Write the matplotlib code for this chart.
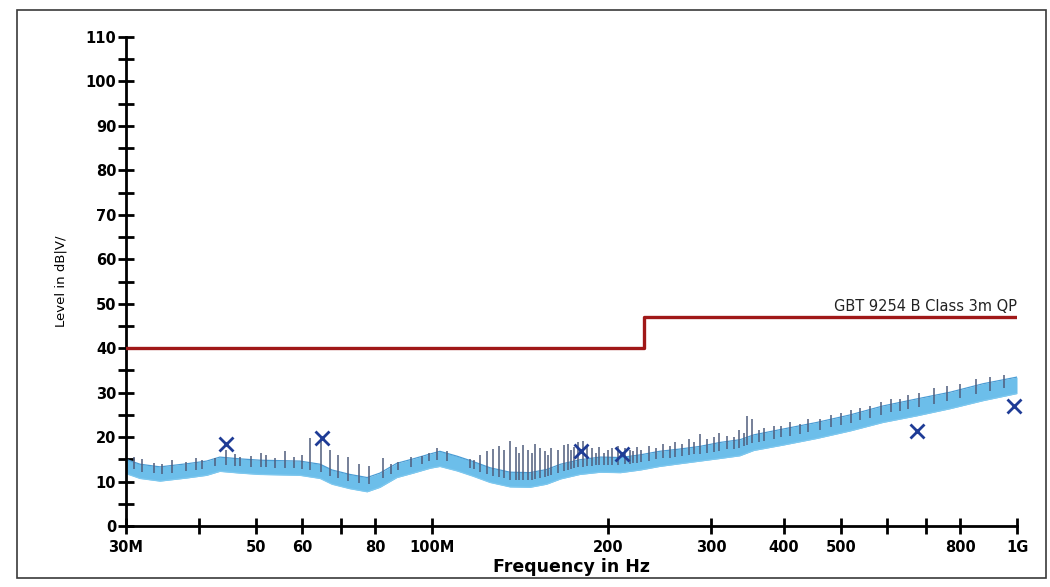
import numpy as np
import matplotlib
matplotlib.use("Agg")
import matplotlib.pyplot as plt
from matplotlib.patches import Rectangle
from matplotlib.ticker import FixedLocator, FixedFormatter, NullFormatter

plt.rcParams['font.family'] = ['DejaVu Sans']

# ---------------- data (MHz / dBuV) ----------------
limit_freq = [30, 230, 1000]
limit_level = [40, 47, 47]
limit_name = "GBT 9254 B Class 3m QP"

band_freq = [30, 31.7, 34.3, 38.1, 41.2, 43.4, 47, 50.8, 55, 59.5, 64.4, 67.5,
             72.4, 77.5, 81.5, 87.1, 92.9, 99.3, 103.2, 110.4, 117.6, 125.7,
             136, 147, 157, 166, 179, 194, 210, 227, 245, 265, 287, 311, 336,
             355, 398, 455, 519, 590, 675, 769, 875, 1000]
band_low = [11.8, 10.7, 10.1, 10.8, 11.4, 12.3, 11.9, 11.6, 11.5, 11.4, 10.7,
            9.4, 8.4, 7.7, 8.7, 10.9, 11.9, 13.0, 13.4, 12.4, 11.2, 9.8, 8.8,
            8.7, 9.4, 10.6, 11.6, 12.1, 12.0, 12.6, 13.4, 14.0, 14.6, 15.2,
            15.8, 17.0, 18.2, 19.7, 21.4, 23.3, 24.8, 26.4, 28.2, 29.8]
band_high = [15.0, 13.9, 13.3, 14.0, 14.6, 15.5, 15.1, 14.8, 14.7, 14.6, 13.9,
             12.6, 11.6, 10.9, 11.9, 14.1, 15.1, 16.2, 16.8, 15.7, 14.5, 13.1,
             12.1, 12.0, 12.7, 13.9, 14.9, 15.5, 15.4, 16.0, 16.8, 17.3, 17.9,
             18.8, 19.4, 20.5, 21.8, 23.3, 25.0, 27.0, 28.6, 30.1, 32.0, 33.5]

spike_freq = [31, 32, 33.5, 34.5, 36, 38, 39.5, 40.5, 42.5, 44.5, 46, 47, 49,
              51, 52, 54, 56, 58, 60, 62, 64.5, 67, 69, 72, 75, 78, 82.5, 85,
              87.5, 92, 96, 99, 102, 106, 116, 118, 121, 124, 127, 130, 133,
              136, 139, 141, 143, 146, 148, 150, 153, 156, 158, 160, 164, 168,
              171, 173, 175, 178, 181, 184, 188, 191, 193, 197, 200, 203, 208,
              214, 218, 221, 224, 228, 235, 242, 248, 255, 260, 268, 275, 281,
              287, 295, 303, 310, 320, 328, 335, 341, 346, 352, 362, 370, 385,
              395, 410, 425, 440, 460, 480, 500, 520, 540, 560, 585, 610, 630,
              650, 680, 720, 760, 800, 850, 900, 950]
spike_top = [15.5, 15.0, 14.2, 14.0, 14.8, 14.5, 15.2, 14.8, 15.3, 17.2, 16.2,
             15.5, 15.8, 16.5, 16.0, 15.2, 16.8, 15.5, 16.0, 19.8, 19.2, 17.0,
             16.0, 15.5, 14.0, 13.5, 15.2, 14.0, 14.5, 15.5, 15.8, 16.5, 17.5,
             16.8, 15.0, 14.8, 16.0, 16.8, 17.3, 18.0, 17.2, 19.2, 17.8, 16.5,
             18.3, 17.0, 16.5, 18.5, 17.5, 16.8, 16.0, 17.5, 17.0, 18.2, 18.5,
             17.0, 17.8, 18.8, 19.2, 18.0, 17.5, 16.5, 17.8, 16.5, 17.0, 17.5,
             18.0, 17.5, 17.2, 16.8, 17.8, 17.0, 18.0, 17.5, 18.5, 18.0, 18.8,
             18.5, 19.5, 19.0, 20.7, 19.5, 20.0, 21.0, 20.3, 20.0, 21.5, 21.0,
             24.8, 24.0, 21.5, 22.0, 22.5, 22.5, 23.5, 23.0, 24.0, 24.0, 25.0,
             25.5, 26.0, 26.5, 27.0, 28.0, 28.5, 28.5, 29.5, 30.0, 31.0, 31.5,
             32.0, 33.0, 33.5, 34.0]

marker_freq = [44.5, 64.9, 180, 211, 675, 988]
marker_level = [18.4, 19.8, 16.9, 16.3, 21.4, 26.9]

x_ticks = [30, 40, 50, 60, 70, 80, 100, 200, 300, 400, 500, 600, 700, 800, 1000]
x_labels = ["30M", "", "50", "60", "", "80", "100M", "200", "300", "400", "500",
            "", "", "800", "1G"]
y_major = list(range(0, 111, 10))
y_minor = list(range(5, 110, 10))

# ---------------- figure ----------------
fig = plt.figure(figsize=(10.5, 5.87), dpi=100)
fig.patches.append(Rectangle((0.016, 0.015), 0.98, 0.968, transform=fig.transFigure,
                             fill=False, edgecolor='#3a3a3a', linewidth=1.2))

ax = fig.add_axes([0.12, 1 - 526 / 587, (1017 - 126) / 1050, (526 - 37) / 587])
ax.set_xscale('log')
ax.set_xlim(30, 1000)
ax.set_ylim(0, 110)

# measurement trace
ax.fill_between(band_freq, band_low, band_high, color='#6cbeea', linewidth=0, zorder=2)
ax.plot(band_freq, band_high, color='#4a9cd4', linewidth=0.9, zorder=2)
ax.plot(band_freq, band_low, color='#7ec8ef', linewidth=0.9, zorder=2)
lf = np.log10(band_freq)
mid = (np.array(band_low) + np.array(band_high)) / 2
spike_base = np.interp(np.log10(spike_freq), lf, mid)
ax.vlines(spike_freq, spike_base, spike_top, color='#4f5d7c', linewidth=1.1, zorder=3)

# limit line
ax.step(limit_freq, limit_level, where='post', color='#a01818', linewidth=2.4, zorder=4)
ax.text(1000, limit_level[-1] + 0.8, limit_name, ha='right', va='bottom',
        fontsize=10.5, color='#222222')

# final markers
ax.plot(marker_freq, marker_level, linestyle='none', marker='x', markersize=10,
        markeredgewidth=2, color='#1f3c96', zorder=5, clip_on=False)

# axes styling
for s in ['top', 'right']:
    ax.spines[s].set_visible(False)
for s in ['left', 'bottom']:
    ax.spines[s].set_linewidth(2.0)
    ax.spines[s].set_color('black')

ax.xaxis.set_major_locator(FixedLocator(x_ticks))
ax.xaxis.set_major_formatter(FixedFormatter(x_labels))
ax.xaxis.set_minor_locator(FixedLocator([]))
ax.xaxis.set_minor_formatter(NullFormatter())
ax.yaxis.set_major_locator(FixedLocator(y_major))
ax.yaxis.set_minor_locator(FixedLocator(y_minor))

ax.tick_params(axis='both', which='both', direction='inout', width=2.0, color='black')
ax.tick_params(axis='both', which='major', length=12, labelsize=10.5)
ax.tick_params(axis='y', which='minor', length=12)
ax.tick_params(axis='x', which='major', pad=4)
ax.tick_params(axis='y', which='major', pad=1)
for lab in ax.get_xticklabels() + ax.get_yticklabels():
    lab.set_fontweight('bold')

ax.set_xlabel("Frequency in Hz", fontsize=12.5, fontweight='bold', labelpad=2)
ax.set_ylabel("Level in dB|V/", fontsize=9.5, labelpad=13)

fig.savefig("out.png", dpi=100)
